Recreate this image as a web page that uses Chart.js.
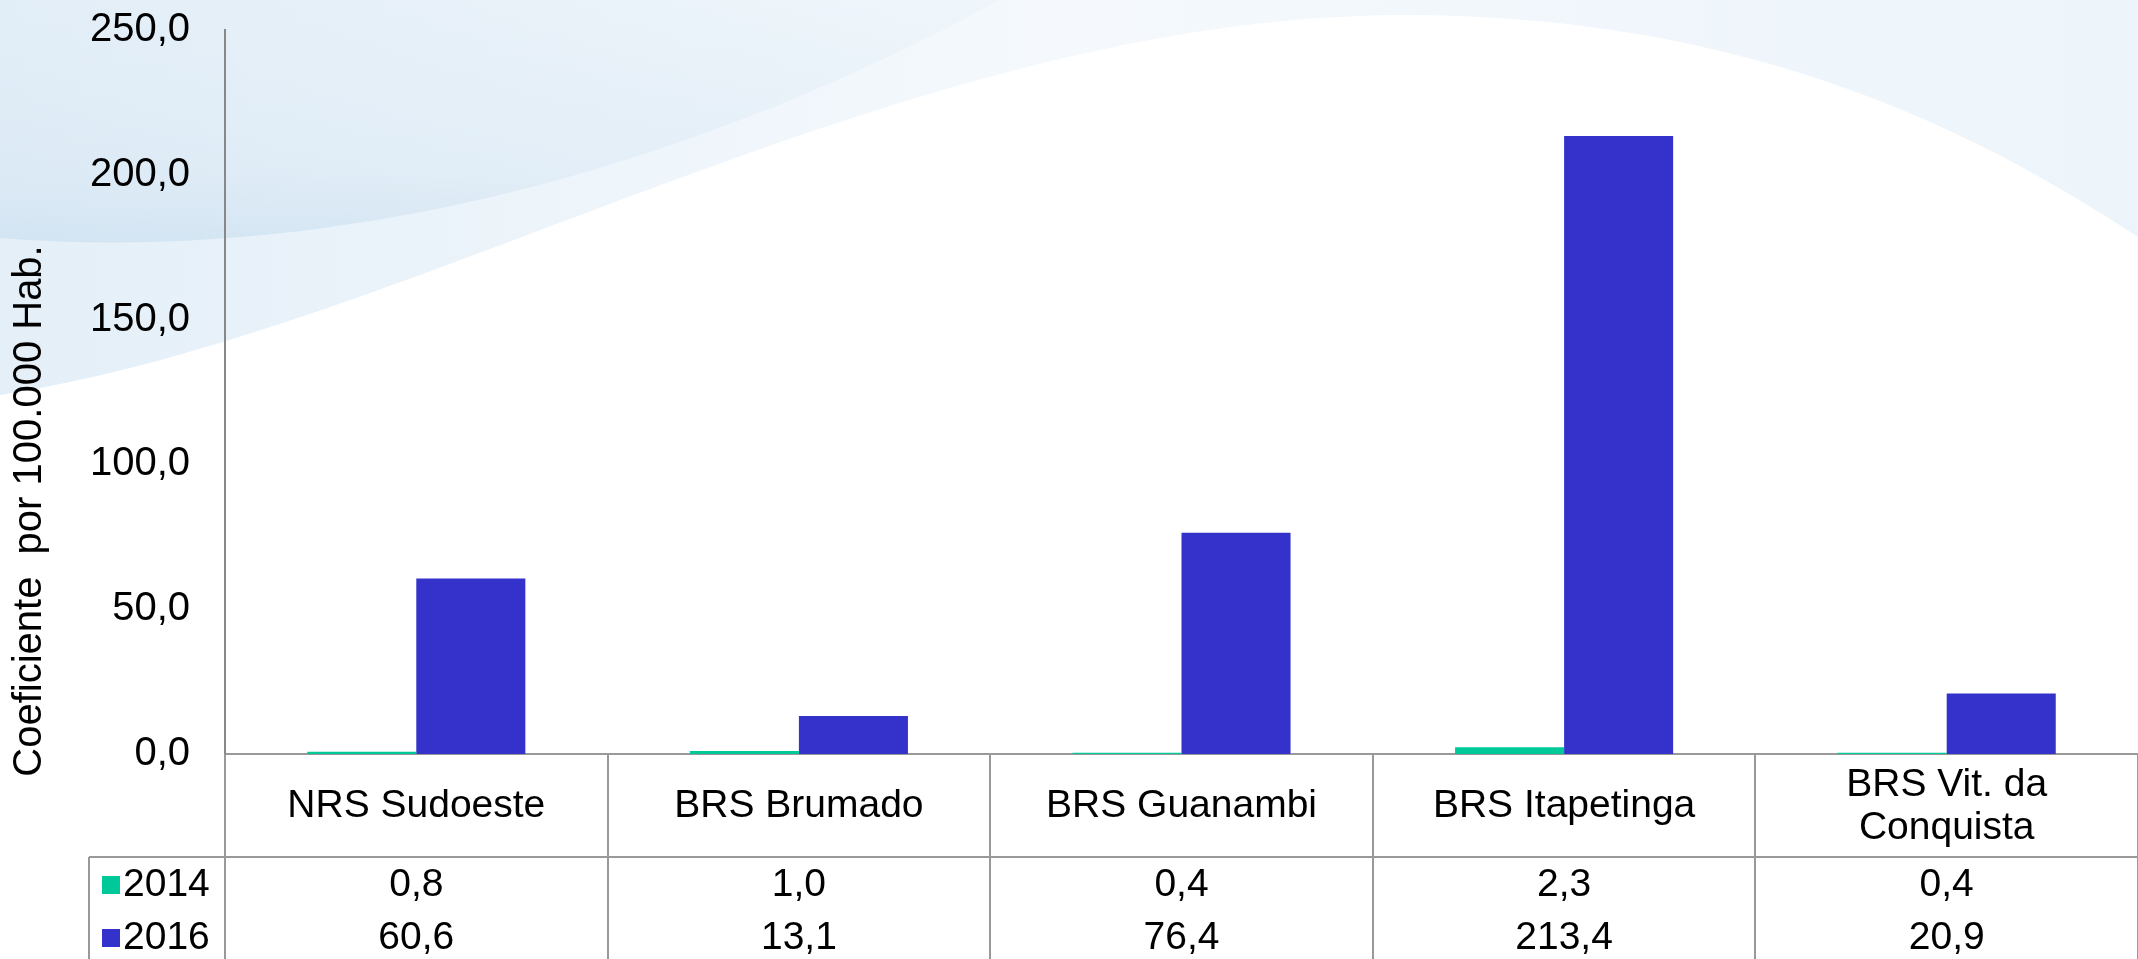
<!DOCTYPE html>
<html>
<head>
<meta charset="utf-8">
<script src="https://cdn.jsdelivr.net/npm/chart.js@4"></script>
<style>
  html, body { margin: 0; padding: 0; background: #fff; }
  #grafico { display: block; }
</style>
</head>
<body>
<canvas id="grafico" width="2138" height="959"></canvas>
<script>
// Datos del gráfico
const categorias = ['NRS Sudoeste', 'BRS Brumado', 'BRS Guanambi', 'BRS Itapetinga', ['BRS Vit. da', 'Conquista']];
const anos = ['2014', '2016'];
const valores2014 = [0.8, 1.0, 0.4, 2.3, 0.4];
const valores2016 = [60.6, 13.1, 76.4, 213.4, 20.9];
const ejeYMin = 0;
const ejeYMax = 250;
const ejeYPaso = 50;
const tituloEjeY = 'Coeficiente  por 100.000 Hab.';

const colores = ['#00C999', '#3432CB'];
const fuente = '"Liberation Sans", Arial, sans-serif';

// Formato con coma decimal
function fmt(v) {
  return v.toFixed(1).replace('.', ',');
}

// Fondo con las curvas azul claro de la plantilla
const fondoPlugin = {
  id: 'fondo',
  beforeDraw(chart) {
    const ctx = chart.ctx;
    const w = chart.width;
    ctx.save();
    ctx.fillStyle = '#fff';
    ctx.fillRect(0, 0, w, chart.height);

    // banda grande: encima de la curva que sube hasta la cima y baja a la derecha
    let g = ctx.createLinearGradient(0, 0, w, 0);
    g.addColorStop(0, 'rgba(210,228,243,0.6)');
    g.addColorStop(0.5, 'rgba(214,231,245,0.25)');
    g.addColorStop(1, 'rgba(214,231,245,0.45)');
    ctx.fillStyle = g;
    ctx.beginPath();
    ctx.moveTo(0, 395);
    ctx.bezierCurveTo(420, 330, 900, 18, 1400, 15);
    ctx.bezierCurveTo(1760, 14, 1990, 140, 2138, 237);
    ctx.lineTo(2138, 0);
    ctx.lineTo(0, 0);
    ctx.closePath();
    ctx.fill();

    // banda superior izquierda, más azulada cerca del borde inferior
    g = ctx.createLinearGradient(0, 0, 0, 250);
    g.addColorStop(0, 'rgba(214,230,243,0.15)');
    g.addColorStop(0.7, 'rgba(205,225,241,0.35)');
    g.addColorStop(1, 'rgba(196,219,238,0.6)');
    ctx.fillStyle = g;
    ctx.beginPath();
    ctx.moveTo(0, 238);
    ctx.bezierCurveTo(300, 262, 650, 190, 1000, 0);
    ctx.lineTo(0, 0);
    ctx.closePath();
    ctx.fill();
    ctx.restore();
  }
};

// Tabla de datos bajo el eje X y título del eje Y
const tablaPlugin = {
  id: 'tabla',
  afterDraw(chart) {
    const ctx = chart.ctx;
    const x = chart.scales.x;
    const area = chart.chartArea;
    const altoCabecera = 103;
    const altoFila = 53;
    const filaTop = area.bottom + altoCabecera;
    const izquierdaTabla = 89;
    const fondo = chart.height;

    ctx.save();
    ctx.strokeStyle = '#999';
    ctx.lineWidth = 2;

    // bordes entre categorías
    const n = categorias.length;
    const bordes = [x.left];
    for (let i = 1; i < n; i++) {
      bordes.push((x.getPixelForValue(i - 1) + x.getPixelForValue(i)) / 2);
    }
    bordes.push(x.right);
    ctx.beginPath();
    bordes.forEach(bx => {
      ctx.moveTo(Math.round(bx), area.bottom);
      ctx.lineTo(Math.round(bx), fondo);
    });
    ctx.moveTo(izquierdaTabla, filaTop);
    ctx.lineTo(izquierdaTabla, fondo);
    ctx.moveTo(izquierdaTabla, filaTop);
    ctx.lineTo(x.right, filaTop);
    ctx.stroke();

    // filas con la leyenda y los valores
    ctx.font = '39px ' + fuente;
    ctx.textBaseline = 'middle';
    const series = [valores2014, valores2016];
    series.forEach((serie, s) => {
      const cy = filaTop + altoFila * s + 28;
      ctx.fillStyle = colores[s];
      ctx.fillRect(102, cy - 9, 18, 18);
      ctx.fillStyle = '#000';
      ctx.textAlign = 'left';
      ctx.fillText(anos[s], 123, cy);
      ctx.textAlign = 'center';
      serie.forEach((v, i) => {
        ctx.fillText(fmt(v), x.getPixelForValue(i), cy);
      });
    });

    // título del eje Y
    ctx.translate(30, 511);
    ctx.rotate(-Math.PI / 2);
    ctx.font = '40px ' + fuente;
    ctx.textAlign = 'center';
    ctx.fillStyle = '#000';
    ctx.fillText(tituloEjeY, 0, 0);
    ctx.restore();
  }
};

new Chart(document.getElementById('grafico'), {
  type: 'bar',
  data: {
    labels: categorias,
    datasets: [
      { label: anos[0], data: valores2014, backgroundColor: colores[0] },
      { label: anos[1], data: valores2016, backgroundColor: colores[1] }
    ]
  },
  options: {
    responsive: false,
    animation: false,
    layout: { padding: { top: 30, right: 0, bottom: 0, left: 0 } },
    datasets: {
      bar: { categoryPercentage: 0.57, barPercentage: 1.0 }
    },
    scales: {
      x: {
        grid: { display: false, drawTicks: false },
        border: { display: true, color: '#999', width: 2 },
        ticks: {
          color: '#000',
          font: { family: fuente, size: 39, lineHeight: 1.1 },
          padding: 31,
          crossAlign: 'center',
          maxRotation: 0,
          autoSkip: false
        },
        afterFit(s) { s.height = 205; }
      },
      y: {
        min: ejeYMin,
        max: ejeYMax,
        grid: { display: false, drawTicks: false },
        border: { display: true, color: '#888', width: 2 },
        ticks: {
          stepSize: ejeYPaso,
          color: '#000',
          font: { family: fuente, size: 40 },
          padding: 35,
          callback: v => fmt(v)
        },
        afterFit(s) {
          s.width = 225;
          s.paddingTop = 0;
          s.paddingBottom = 0;
        }
      }
    },
    plugins: {
      legend: { display: false },
      tooltip: { enabled: false }
    }
  },
  plugins: [fondoPlugin, tablaPlugin]
});
</script>
</body>
</html>
